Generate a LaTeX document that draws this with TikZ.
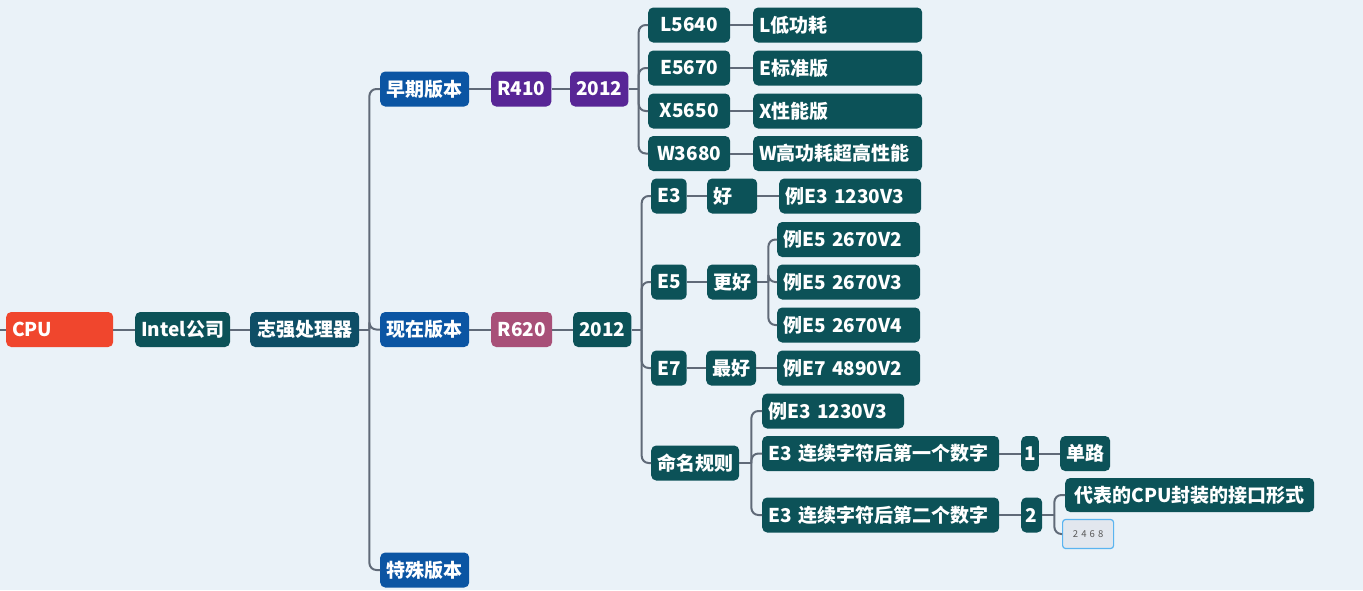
\documentclass[tikz,border=0pt]{standalone}
\usepackage{fontspec}
\setmainfont{Noto Sans CJK SC}
\usepackage{tikz}
\usetikzlibrary{positioning,calc}
\definecolor{bgblue}{RGB}{234,242,248}
\definecolor{topicteal}{RGB}{12,82,88}
\definecolor{xeonteal}{RGB}{14,78,102}
\definecolor{verblue}{RGB}{11,85,163}
\definecolor{oldpurple}{RGB}{88,38,150}
\definecolor{newrose}{RGB}{168,80,120}
\definecolor{cpured}{RGB}{240,70,45}
\definecolor{linegray}{RGB}{96,106,120}
\definecolor{hintfill}{RGB}{226,231,238}
\definecolor{hintframe}{RGB}{90,180,240}

\begin{document}
\begin{tikzpicture}[
  x=1pt, y=-1pt,
  font=\fontsize{19}{21}\selectfont\bfseries,
  topic/.style={rectangle, fill=topicteal, text=white, rounded corners=5pt,
                minimum height=35pt, inner xsep=6pt, inner ysep=0pt, anchor=west},
  wide/.style={topic, text width=#1, align=left},
  ver/.style={topic, fill=verblue, minimum width=89pt},
  br/.style={draw=linegray, line width=2pt, rounded corners=7pt},
  ln/.style={draw=linegray, line width=2pt}
]
\fill[bgblue] (0,0) rectangle (1363,590);
\useasboundingbox (0,0) rectangle (1363,590);

% Root chain: CPU -> Intel -> Xeon
\coordinate (stub) at (0,329.5);
\node[wide=95pt, fill=cpured]           (cpu)   at (6,329.5)   {CPU};
\node[topic, minimum width=93pt]        (intel) at (135,329.5) {Intel公司};
\node[topic, fill=xeonteal, minimum width=109pt] (xeon) at (250,329.5) {志强处理器};

% Versions
\node[ver] (early)   at (380,89)    {早期版本};
\node[ver] (now)     at (380,329.5) {现在版本};
\node[ver] (special) at (380,570)   {特殊版本};

% Early branch: R410 / 2012 and four models
\node[topic, fill=oldpurple, minimum width=57pt] (r410)  at (491,89) {R410};
\node[topic, fill=oldpurple, minimum width=56pt] (yrold) at (570,89) {2012};
\node[topic, minimum width=82pt] (l5640) at (648,25)    {L5640};
\node[topic, minimum width=82pt] (e5670) at (648,68)    {E5670};
\node[topic, minimum width=82pt] (x5650) at (648,111)   {X5650};
\node[topic, minimum width=82pt] (w3680) at (648,153.5) {W3680};
\node[wide=157pt] (lmean) at (753,25)    {L低功耗};
\node[wide=157pt] (emean) at (753,68)    {E标准版};
\node[wide=157pt] (xmean) at (753,111)   {X性能版};
\node[wide=157pt] (wmean) at (753,153.5) {W高功耗超高性能};

% Current branch: R620 / 2012
\node[topic, fill=newrose, minimum width=61pt] (r620)  at (491,329.5) {R620};
\node[topic, minimum width=55pt]               (yrnew) at (573,329.5) {2012};

% E3 / E5 / E7 levels
\node[topic, minimum width=34pt] (e3)   at (651,196) {E3};
\node[wide=38pt]                 (good) at (707,196) {好};
\node[wide=130pt]                (ex3)  at (779,196) {例E3 1230V3};
\node[topic, minimum width=34pt] (e5)     at (651,282) {E5};
\node[topic, minimum width=48pt] (better) at (707,282) {更好};
\node[wide=131pt] (ex5a) at (777,239.5) {例E5 2670V2};
\node[wide=131pt] (ex5b) at (777,282)   {例E5 2670V3};
\node[wide=131pt] (ex5c) at (777,325)   {例E5 2670V4};
\node[topic, minimum width=33pt] (e7)   at (651,368) {E7};
\node[topic, minimum width=49pt] (best) at (706,368) {最好};
\node[wide=131pt]                (ex7)  at (777,368) {例E7 4890V2};

% Naming rule
\node[topic, minimum width=88pt] (rule) at (651,463)   {命名规则};
\node[wide=130pt]                (rex)  at (762,411)   {例E3 1230V3};
\node[wide=225pt]                (rone) at (762,453.5) {E3 连续字符后第一个数字};
\node[wide=225pt]                (rtwo) at (762,515)   {E3 连续字符后第二个数字};
\node[topic, minimum width=17pt, inner xsep=3pt] (none) at (1021,453.5) {1};
\node[topic, minimum width=49pt]                 (single) at (1060,453.5) {单路};
\node[topic, minimum width=21pt, inner xsep=3pt] (ntwo) at (1021,515) {2};
\node[topic, minimum width=249pt, minimum height=34pt] (pkg) at (1065,495) {代表的CPU封装的接口形式};
\node[rectangle, draw=hintframe, fill=hintfill, line width=1.2pt, rounded corners=3pt,
      minimum width=51pt, minimum height=29pt, anchor=west,
      font=\fontsize{9.5}{10}\selectfont, text=black!65] (hint) at (1062,534) {2\,\,4\,\,6\,\,8};

% Connectors: root chain
\draw[ln] (stub) -- (cpu);
\draw[ln] (cpu) -- (intel);
\draw[ln] (intel) -- (xeon);
\draw[ln] (xeon.east) -- ++(10,0) coordinate (xj);
\foreach \v in {early,now,special}
  \draw[br] (xj) |- (\v.west);

% Connectors: early
\draw[ln] (early) -- (r410);
\draw[ln] (r410) -- (yrold);
\draw[ln] (yrold.east) -- ++(10,0) coordinate (oj);
\foreach \m/\d in {l5640/lmean,e5670/emean,x5650/xmean,w3680/wmean} {
  \draw[br] (oj) |- (\m.west);
  \draw[ln] (\m) -- (\d);
}

% Connectors: current
\draw[ln] (now) -- (r620);
\draw[ln] (r620) -- (yrnew);
\draw[ln] (yrnew.east) -- ++(10,0) coordinate (nj);
\foreach \c in {e3,e5,e7,rule}
  \draw[br] (nj) |- (\c.west);
\draw[ln] (e3) -- (good);
\draw[ln] (good) -- (ex3);
\draw[ln] (e5) -- (better);
\draw[ln] (better.east) -- ++(11,0) coordinate (bj);
\foreach \c in {ex5a,ex5b,ex5c}
  \draw[br] (bj) |- (\c.west);
\draw[ln] (e7) -- (best);
\draw[ln] (best) -- (ex7);

% Connectors: naming rule
\draw[ln] (rule.east) -- ++(12,0) coordinate (rj);
\foreach \c in {rex,rone,rtwo}
  \draw[br] (rj) |- (\c.west);
\draw[ln] (rone) -- (none);
\draw[ln] (none) -- (single);
\draw[ln] (rtwo) -- (ntwo);
\draw[ln] (ntwo.east) -- ++(12,0) coordinate (tj);
\draw[br] (tj) |- (pkg.west);
\draw[br] (tj) |- (hint.west);
\end{tikzpicture}
\end{document}
